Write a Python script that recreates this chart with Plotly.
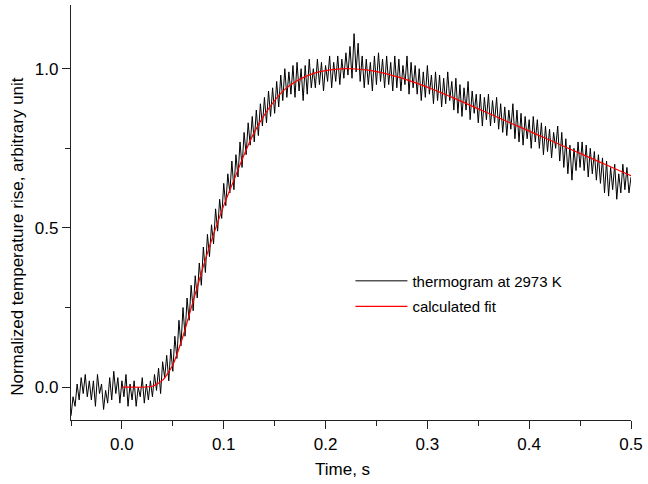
import plotly.graph_objects as go

# ---------------- data ----------------
thermo_t0 = -0.05      # first sample time, s
thermo_dt = 0.002      # sample spacing, s
thermogram = [
    -0.09, -0.03, -0.06, 0.01, -0.04, 0.03, -0.02, 0.04, -0.03, 0.02,
    -0.04, 0.02, -0.06, 0.04, -0.02, 0.01, -0.07, -0.01, -0.05, 0.03,
    -0.04, 0.05, -0.02, 0.03, -0.05, 0.02, -0.03, 0.04, -0.06, 0.01,
    -0.04, 0.02, -0.06, 0.00, -0.03, 0.03, -0.05, 0.01, -0.04, 0.02,
    -0.03, 0.04, -0.01, 0.06, -0.02, 0.08, 0.03, 0.10, 0.02, 0.12,
    0.05, 0.16, 0.09, 0.21, 0.13, 0.25, 0.16, 0.28, 0.21, 0.32,
    0.24, 0.35, 0.28, 0.39, 0.32, 0.44, 0.36, 0.48, 0.41, 0.51,
    0.45, 0.56, 0.49, 0.59, 0.53, 0.64, 0.57, 0.67, 0.61, 0.71,
    0.62, 0.73, 0.66, 0.77, 0.69, 0.80, 0.73, 0.83, 0.76, 0.85,
    0.77, 0.87, 0.79, 0.89, 0.82, 0.91, 0.83, 0.93, 0.85, 0.94,
    0.86, 0.96, 0.88, 0.98, 0.90, 1.00, 0.91, 0.99, 0.92, 1.01,
    0.91, 1.02, 0.93, 1.00, 0.90, 1.01, 0.92, 1.03, 0.94, 1.00,
    0.94, 1.03, 0.95, 1.02, 0.93, 1.01, 0.96, 1.04, 0.94, 1.02,
    0.96, 1.04, 0.95, 1.03, 0.97, 1.05, 0.98, 1.07, 0.97, 1.11,
    0.99, 1.08, 0.96, 1.04, 0.94, 1.03, 0.95, 1.02, 0.93, 1.04,
    0.95, 1.05, 0.96, 1.03, 0.94, 1.04, 0.95, 1.02, 0.93, 1.04,
    0.94, 1.03, 0.93, 1.01, 0.95, 1.04, 0.92, 1.02, 0.94, 1.01,
    0.92, 1.00, 0.90, 0.99, 0.91, 1.01, 0.92, 0.98, 0.89, 0.99,
    0.90, 0.98, 0.88, 0.97, 0.89, 0.99, 0.90, 0.96, 0.87, 0.97,
    0.86, 0.95, 0.85, 0.94, 0.87, 0.96, 0.84, 0.93, 0.86, 0.92,
    0.83, 0.92, 0.82, 0.91, 0.84, 0.92, 0.82, 0.90, 0.83, 0.91,
    0.81, 0.89, 0.80, 0.88, 0.79, 0.87, 0.81, 0.89, 0.78, 0.87,
    0.77, 0.86, 0.76, 0.85, 0.78, 0.84, 0.75, 0.85, 0.77, 0.84,
    0.75, 0.83, 0.73, 0.82, 0.74, 0.81, 0.72, 0.80, 0.75, 0.82,
    0.71, 0.80, 0.69, 0.78, 0.67, 0.76, 0.65, 0.75, 0.68, 0.77,
    0.69, 0.77, 0.68, 0.76, 0.66, 0.75, 0.67, 0.74, 0.65, 0.73,
    0.64, 0.72, 0.61, 0.71, 0.60, 0.69, 0.62, 0.70, 0.59, 0.67,
    0.61, 0.70, 0.62, 0.69, 0.61, 0.66,
]
thermo_time = [round(thermo_t0 + thermo_dt * i, 3) for i in range(len(thermogram))]

fit_time = [
    0.00, 0.01, 0.02, 0.03, 0.04, 0.05, 0.06, 0.07, 0.08, 0.09,
    0.10, 0.11, 0.12, 0.13, 0.14, 0.15, 0.16, 0.17, 0.18, 0.19,
    0.20, 0.21, 0.22, 0.23, 0.24, 0.25, 0.26, 0.27, 0.28, 0.29,
    0.30, 0.31, 0.32, 0.33, 0.34, 0.35, 0.36, 0.37, 0.38, 0.39,
    0.40, 0.41, 0.42, 0.43, 0.44, 0.45, 0.46, 0.47, 0.48, 0.49, 0.50,
]
fit_value = [
    0.000, 0.000, 0.000, 0.003, 0.022, 0.070, 0.160, 0.270, 0.380, 0.480,
    0.570, 0.650, 0.730, 0.800, 0.855, 0.900, 0.935, 0.958, 0.975, 0.987,
    0.994, 0.998, 1.000, 0.999, 0.996, 0.991, 0.984, 0.975, 0.965, 0.954,
    0.942, 0.929, 0.916, 0.902, 0.888, 0.874, 0.860, 0.846, 0.832, 0.818,
    0.804, 0.790, 0.776, 0.762, 0.748, 0.734, 0.720, 0.706, 0.692, 0.678, 0.664,
]

x_tick_vals = [0.0, 0.1, 0.2, 0.3, 0.4, 0.5]
x_tick_text = ["0.0", "0.1", "0.2", "0.3", "0.4", "0.5"]
y_tick_vals = [0.0, 0.5, 1.0]
y_tick_text = ["0.0", "0.5", "1.0"]

series_names = ["thermogram at 2973 K", "calculated fit"]
x_title = "Time, s"
y_title = "Normalized temperature rise, arbitrary unit"

# ---------------- figure ----------------
FONT = "Liberation Sans, Arial, Helvetica, sans-serif"

fig = go.Figure()
fig.add_trace(go.Scatter(
    x=thermo_time, y=thermogram, mode="lines", name=series_names[0],
    line=dict(color="black", width=1), legendgroup="a",
))
fig.add_trace(go.Scatter(
    x=fit_time, y=fit_value, mode="lines", name=series_names[1],
    line=dict(color="red", width=1.2, shape="spline", smoothing=0.6), legendgroup="b",
))

axis_common = dict(
    showline=True, linecolor="#222", linewidth=1.3, mirror=False,
    showgrid=False, zeroline=False,
    ticks="outside", ticklen=8, tickwidth=1.2, tickcolor="#222",
    tickfont=dict(family=FONT, size=17, color="black"),
)

fig.update_xaxes(
    range=[-0.05, 0.5], tickvals=x_tick_vals, ticktext=x_tick_text,
    minor=dict(ticks="outside", ticklen=5, tickwidth=1, tickcolor="#222", dtick=0.05, tick0=0),
    **axis_common,
)
fig.update_yaxes(
    range=[-0.103, 1.2], tickvals=y_tick_vals, ticktext=y_tick_text,
    minor=dict(ticks="outside", ticklen=5, tickwidth=1, tickcolor="#222", dtick=0.25, tick0=0),
    **axis_common,
)

fig.update_layout(
    width=648, height=484,
    margin=dict(l=71, r=14, t=5, b=64),
    paper_bgcolor="white", plot_bgcolor="white",
    font=dict(family=FONT, size=17, color="black"),
    showlegend=True,
    legend=dict(
        x=0.499, y=0.3745, xanchor="left", yanchor="top",
        bgcolor="rgba(0,0,0,0)", borderwidth=0,
        font=dict(family=FONT, size=15, color="black"),
        tracegroupgap=3, itemwidth=52,
    ),
    annotations=[
        dict(text=x_title, xref="paper", yref="paper", x=0.484, y=-0.12,
             xanchor="center", yanchor="middle", showarrow=False,
             font=dict(family=FONT, size=17, color="black")),
        dict(text=y_title, xref="paper", yref="paper", x=-0.097, y=0.443,
             xanchor="center", yanchor="middle", showarrow=False, textangle=-90,
             font=dict(family=FONT, size=17, color="black")),
    ],
)

fig.write_html(
    "out.html",
    config={"displayModeBar": False},
    post_script="document.body.style.margin='0';document.body.style.overflow='hidden';",
)
